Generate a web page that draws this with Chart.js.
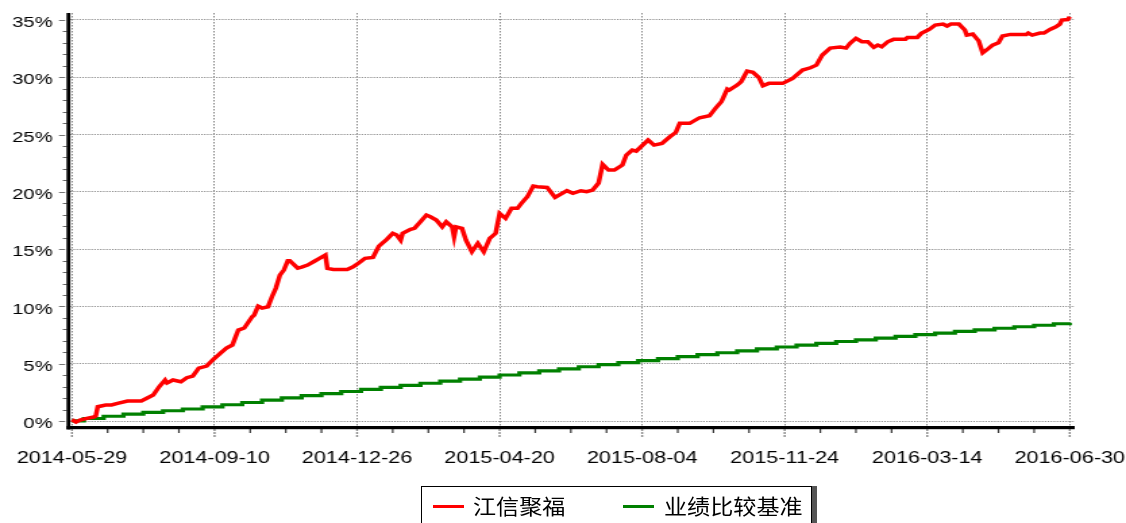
<!DOCTYPE html>
<html>
<head>
<meta charset="utf-8">
<script src="https://cdn.jsdelivr.net/npm/chart.js@4.4.1/dist/chart.umd.min.js"></script>
<style>
html, body { margin: 0; padding: 0; background: #fff; overflow: hidden; }
#wrap { position: relative; width: 1126px; height: 523px; }
#c { position: absolute; left: 0; top: 0; }
#legend { position: absolute; left: 421px; top: 486px; width: 389px; height: 45px; border: 1.5px solid #000;
  box-shadow: 5px 0 0 #555; background: #fff; font-family: "Noto Sans CJK SC", sans-serif; font-size: 21px; color: #000; }
#legend .ln { position: absolute; top: 18px; width: 31px; height: 3px; }
#legend .tx { position: absolute; top: 5px; line-height: 26px; white-space: nowrap; transform: scaleX(1.1); transform-origin: left center; }
</style>
</head>
<body>
<div id="wrap">
  <!-- drawn at 834px wide and stretched to 1126px, like the source image -->
  <canvas id="c" width="834" height="523" style="width:1126px;height:523px"></canvas>
  <div id="legend"></div>
</div>
<script>
// x axis = trading day index from 2014-05-29
const tickDays = [0, 72, 144, 216, 288, 360, 432, 504];
const tickLabels = ['2014-05-29', '2014-09-10', '2014-12-26', '2015-04-20', '2015-08-04', '2015-11-24', '2016-03-14', '2016-06-30'];
const yTicks = [0, 5, 10, 15, 20, 25, 30, 35];
const seriesNames = ['江信聚福', '业绩比较基准'];
const seriesColors = ['#ff0000', '#008000'];

// 江信聚福 cumulative return (%)
const redDays = [
  0, 2, 4, 8, 11, 12, 13, 17, 20, 23,
  28, 35, 38, 41, 44, 47, 48, 51, 55, 58,
  61, 64, 68, 71, 75, 78, 81, 84, 87, 91,
  92, 94, 96, 99, 101, 103, 105, 107, 109, 110,
  114, 116, 119, 122, 125, 128, 129, 132, 135, 139,
  142, 145, 148, 152, 155, 159, 162, 164, 166, 167,
  171, 173, 176, 179, 181, 184, 187, 189, 192, 193,
  194, 197, 199, 202, 205, 208, 211, 214, 216, 219,
  222, 225, 227, 230, 233, 235, 240, 244, 250, 253,
  257, 260, 263, 266, 268, 271, 274, 278, 280, 283,
  285, 291, 294, 298, 302, 305, 307, 312, 317, 322,
  325, 328, 331, 332, 336, 338, 341, 344, 347, 349,
  352, 359, 364, 369, 373, 376, 379, 383, 388, 391,
  393, 396, 399, 402, 405, 407, 409, 412, 415, 421,
  422, 427, 429, 433, 436, 440, 442, 444, 448, 451,
  452, 455, 458, 460, 463, 465, 468, 470, 474, 482,
  483, 485, 489, 491, 494, 497, 499, 500, 503, 504
];
const redPct = [
  0.13, -0.09, 0.09, 0.26, 0.35, 0.44, 1.25, 1.40, 1.40, 1.54,
  1.75, 1.75, 2.01, 2.27, 2.99, 3.58, 3.32, 3.58, 3.43, 3.78,
  3.93, 4.62, 4.80, 5.32, 5.93, 6.37, 6.63, 7.94, 8.12, 9.10,
  9.25, 10.03, 9.86, 9.97, 10.85, 11.61, 12.74, 13.18, 13.99, 13.99,
  13.35, 13.44, 13.61, 13.90, 14.20, 14.49, 13.32, 13.23, 13.23, 13.23,
  13.46, 13.81, 14.20, 14.28, 15.27, 15.86, 16.38, 16.23, 15.79, 16.38,
  16.73, 16.82, 17.39, 17.98, 17.83, 17.54, 16.95, 17.39, 16.95, 16.08,
  16.95, 16.82, 15.79, 14.77, 15.51, 14.77, 15.94, 16.38, 18.12, 17.69,
  18.56, 18.56, 19.00, 19.57, 20.51, 20.45, 20.39, 19.52, 20.10, 19.87,
  20.10, 20.01, 20.16, 20.77, 22.40, 21.90, 21.90, 22.34, 23.21, 23.65,
  23.56, 24.52, 24.08, 24.23, 24.81, 25.19, 25.98, 25.98, 26.47, 26.64,
  27.29, 27.86, 28.97, 28.88, 29.32, 29.61, 30.54, 30.43, 29.96, 29.26,
  29.47, 29.47, 29.90, 30.63, 30.83, 31.06, 31.94, 32.55, 32.64, 32.55,
  32.96, 33.39, 33.10, 33.10, 32.61, 32.81, 32.66, 33.10, 33.31, 33.31,
  33.48, 33.48, 33.83, 34.18, 34.56, 34.64, 34.47, 34.64, 34.64, 34.12,
  33.68, 33.77, 33.18, 32.14, 32.52, 32.81, 33.01, 33.60, 33.74, 33.74,
  33.86, 33.68, 33.86, 33.86, 34.18, 34.41, 34.64, 34.99, 35.04, 35.28
];

// 业绩比较基准 (stair steps)
const greenDays = [
  0, 6, 16, 26, 36, 46, 56, 66, 76, 86,
  96, 106, 116, 126, 136, 146, 156, 166, 176, 186,
  196, 206, 216, 226, 236, 246, 256, 266, 276, 286,
  296, 306, 316, 326, 336, 346, 356, 366, 376, 386,
  396, 406, 416, 426, 436, 446, 456, 466, 476, 486,
  496, 504
];
const greenPct = [
  0.02, 0.22, 0.42, 0.60, 0.76, 0.90, 1.05, 1.24, 1.42, 1.62,
  1.82, 2.02, 2.22, 2.40, 2.58, 2.76, 2.94, 3.12, 3.30, 3.48,
  3.66, 3.84, 4.02, 4.20, 4.38, 4.56, 4.74, 4.92, 5.10, 5.28,
  5.45, 5.62, 5.79, 5.96, 6.13, 6.30, 6.46, 6.62, 6.78, 6.94,
  7.09, 7.24, 7.39, 7.54, 7.68, 7.82, 7.96, 8.10, 8.23, 8.36,
  8.49, 8.58
];

const toPoints = (days, vals) => days.map((d, i) => ({ x: d, y: vals[i] }));

// html legend
const legend = document.getElementById('legend');
[[11, 51], [201, 242]].forEach(([lx, tx], i) => {
    const ln = document.createElement('div'); ln.className = 'ln';
    ln.style.left = lx + 'px'; ln.style.background = seriesColors[i];
    const t = document.createElement('div'); t.className = 'tx';
    t.style.left = tx + 'px'; t.textContent = seriesNames[i];
    legend.appendChild(ln); legend.appendChild(t);
});

// axis lines and small tick marks, drawn over the data
const axisPlugin = {
    id: 'axisLines',
    afterDatasetsDraw(chart) {
        const { ctx, chartArea: a, scales: { x, y } } = chart;
        ctx.save();
        // y ticks: 1% minor, 5% major
        for (let v = 0; v <= 35; v++) {
            const py = Math.round(y.getPixelForValue(v)) + 0.5;
            ctx.beginPath();
            if (v % 5 === 0) { ctx.strokeStyle = '#777'; ctx.moveTo(43.7, py); ctx.lineTo(48.3, py); }
            else { ctx.strokeStyle = '#666'; ctx.moveTo(46.5, py); ctx.lineTo(49.5, py); }
            ctx.lineWidth = 1; ctx.stroke();
        }
        // x ticks: every 18 days minor, every 72 major
        for (let d = 0; d <= 504; d += 18) {
            const px = x.getPixelForValue(d);
            ctx.beginPath();
            if (d % 72 === 0) { ctx.strokeStyle = '#888'; ctx.lineWidth = 1.4; ctx.setLineDash([2, 1]); ctx.moveTo(px, 429); ctx.lineTo(px, 437); }
            else { ctx.strokeStyle = '#333'; ctx.lineWidth = 1.2; ctx.setLineDash([]); ctx.moveTo(px, 429); ctx.lineTo(px, 433); }
            ctx.stroke();
        }
        ctx.setLineDash([]);
        ctx.fillStyle = '#000';
        ctx.fillRect(49.3, a.top, 2.8, a.bottom - a.top + 2.5);
        ctx.fillRect(49.3, 426, a.right - 49.3, 3.2);
        ctx.restore();
    }
};

const font = { family: '"Liberation Sans", Arial, sans-serif' };

new Chart(document.getElementById('c').getContext('2d'), {
    type: 'line',
    data: {
        datasets: [
            { label: seriesNames[0], data: toPoints(redDays, redPct), borderColor: seriesColors[0], borderWidth: 3.5, pointRadius: 0, tension: 0, fill: false },
            { label: seriesNames[1], data: toPoints(greenDays, greenPct), borderColor: seriesColors[1], borderWidth: 3.2, pointRadius: 0, stepped: true, fill: false }
        ]
    },
    options: {
        responsive: false, animation: false, devicePixelRatio: 1,
        layout: { padding: { left: 0, top: 13, right: 38, bottom: 0 } },
        plugins: { legend: { display: false }, tooltip: { enabled: false } },
        scales: {
            x: {
                type: 'linear', min: -2.27, max: 506.5,
                afterBuildTicks: s => { s.ticks = tickDays.map(v => ({ value: v })); },
                afterFit: s => { s.height = 96; s.paddingLeft = 0; s.paddingRight = 0; },
                ticks: { autoSkip: false, maxRotation: 0, padding: 22, color: '#000', font: { ...font, size: 16 },
                    callback: (v, i) => tickLabels[i] },
                grid: { drawTicks: false, color: '#888', lineWidth: 1 },
                border: { display: false, dash: [1.5, 1.5] }
            },
            y: {
                min: -0.52, max: 35.61,
                afterBuildTicks: s => { s.ticks = yTicks.map(v => ({ value: v })); },
                afterFit: s => { s.width = 50; s.paddingTop = 0; s.paddingBottom = 0; },
                ticks: { padding: 11, labelOffset: 3, color: '#000', font: { ...font, size: 15 }, callback: v => v + '%' },
                grid: { drawTicks: false, color: '#888', lineWidth: 1 },
                border: { display: false, dash: [1.1, 1.1] }
            }
        }
    },
    plugins: [axisPlugin]
});
</script>
</body>
</html>
